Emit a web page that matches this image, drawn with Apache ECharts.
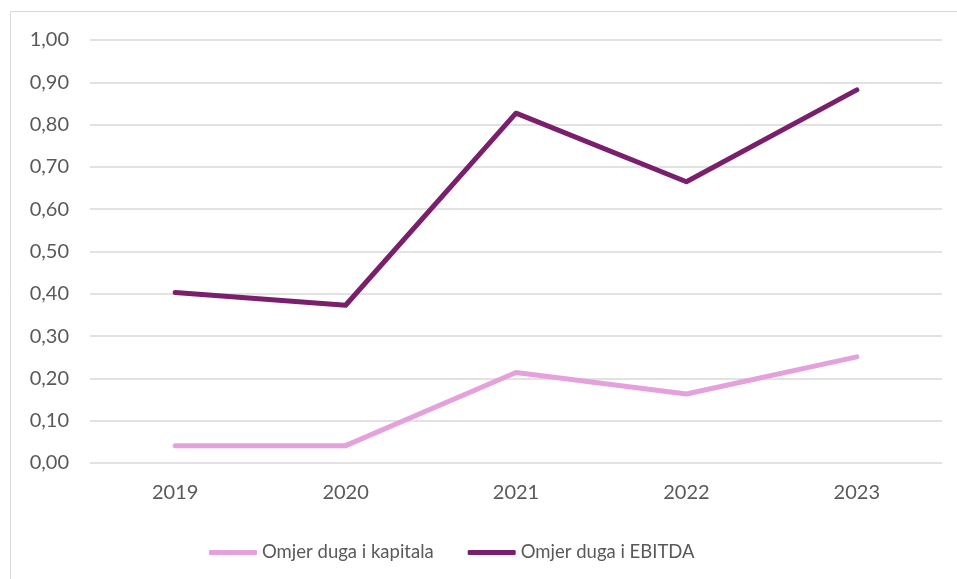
<!DOCTYPE html>
<html><head><meta charset="utf-8">
<script src="https://cdn.jsdelivr.net/npm/echarts@6/dist/echarts.min.js"></script>
<style>html,body{margin:0;padding:0;background:#fff}#c{width:957px;height:579px}</style>
</head><body><div id="c"></div>
<script>
const categories = ['2019','2020','2021','2022','2023'];
const kapitala = [0.041, 0.041, 0.214, 0.163, 0.251];
const ebitda = [0.403, 0.373, 0.827, 0.665, 0.882];
const seriesNames = ['Omjer duga i kapitala','Omjer duga i EBITDA'];
const yTicks = {min: 0, max: 1, interval: 0.1};

const chart = echarts.init(document.getElementById('c'), null, {renderer: 'canvas'});
const font = 'Lato, "Liberation Sans", sans-serif';
chart.setOption({
  animation: false,
  backgroundColor: '#fff',
  graphic: [{type: 'rect', shape: {x: 10.5, y: 11.5, width: 960, height: 600}, style: {fill: 'none', stroke: '#d9d9d9', lineWidth: 1}, silent: true}],
  grid: {left: 90, right: 15, top: 40, bottom: 116, containLabel: false},
  legend: {
    left: 204, top: 538,
    itemWidth: 48, itemHeight: 5, itemGap: 34,
    icon: 'roundRect',
    textStyle: {color: '#595959', fontSize: 18.5, fontFamily: font},
    data: seriesNames
  },
  xAxis: {
    type: 'category', data: categories, boundaryGap: true,
    axisLine: {show: false}, axisTick: {show: false},
    axisLabel: {color: '#595959', fontSize: 20, fontFamily: font, margin: 20}
  },
  yAxis: {
    type: 'value', min: yTicks.min, max: yTicks.max, interval: yTicks.interval,
    axisLine: {show: false}, axisTick: {show: false},
    splitLine: {lineStyle: {color: '#d9d9d9', width: 1.5}},
    axisLabel: {color: '#595959', fontSize: 20, fontFamily: font, margin: 21,
      formatter: v => v.toFixed(2).replace('.', ',')}
  },
  series: [
    {name: seriesNames[0], type: 'line', data: kapitala, symbol: 'none',
     lineStyle: {color: '#e4a1dc', width: 5, cap: 'round', join: 'round'}, itemStyle: {color: '#e4a1dc'}},
    {name: seriesNames[1], type: 'line', data: ebitda, symbol: 'none',
     lineStyle: {color: '#7a1f6c', width: 5, cap: 'round', join: 'round'}, itemStyle: {color: '#7a1f6c'}}
  ]
});
</script></body></html>
